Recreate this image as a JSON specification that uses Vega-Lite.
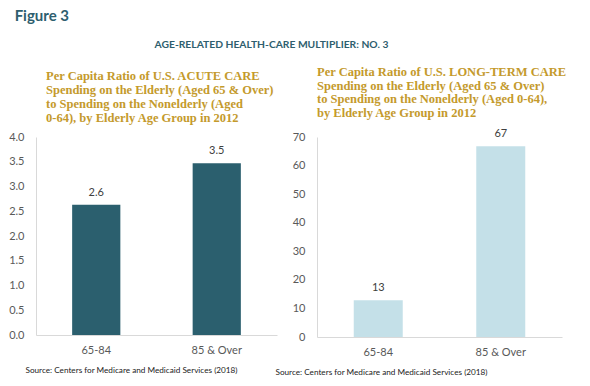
{
  "$schema": "https://vega.github.io/schema/vega-lite/v6.json",
  "background": "white",
  "padding": {"left": 8, "top": 8, "right": 5, "bottom": 5},
  "datasets": {
    "acute": [
      {"group": "65-84", "ratio": 2.63},
      {"group": "85 & Over", "ratio": 3.47}
    ],
    "ltc": [
      {"group": "65-84", "ratio": 12.9},
      {"group": "85 & Over", "ratio": 66.8}
    ]
  },
  "title": {
    "text": "Figure 3",
    "anchor": "start",
    "frame": "bounds",
    "dx": 6,
    "font": "Lato",
    "fontSize": 15,
    "fontWeight": "bold",
    "color": "#2E5E6E",
    "offset": 16
  },
  "config": {
    "view": {"stroke": null},
    "axis": {
      "domainColor": "#D9D9D9",
      "ticks": false,
      "grid": false,
      "labelColor": "#595959",
      "labelFont": "Lato",
      "labelFontSize": 11
    },
    "title": {
      "font": "Liberation Serif",
      "fontSize": 12.5,
      "fontWeight": "bold",
      "color": "#C49A2C",
      "anchor": "start",
      "frame": "group",
      "lineHeight": 14
    }
  },
  "vconcat": [
    {
      "title": {
        "text": "AGE-RELATED HEALTH-CARE MULTIPLIER: NO. 3",
        "anchor": "middle",
        "frame": "bounds",
        "dx": -16,
        "font": "Lato",
        "fontSize": 10.3,
        "fontWeight": "bold",
        "color": "#2E5E6E",
        "offset": 16
      },
      "bounds": "flush",
      "spacing": 40,
      "hconcat": [
        {
          "width": 241,
          "height": 198,
          "data": {"name": "acute"},
          "title": {
            "text": [
              "Per Capita Ratio of  U.S. ACUTE CARE",
              "Spending on the Elderly (Aged 65 & Over)",
              "to Spending on the Nonelderly (Aged",
              "0-64), by Elderly Age Group  in 2012"
            ],
            "dx": 10,
            "offset": 7
          },
          "encoding": {
            "x": {
              "field": "group",
              "type": "nominal",
              "sort": null,
              "scale": {"paddingInner": 0.6, "paddingOuter": 0.3},
              "axis": {
                "labelAngle": 0,
                "labelPadding": 9,
                "title": "Source: Centers for Medicare and Medicaid Services (2018)",
                "titleFont": "Lato",
                "titleFontSize": 8.2,
                "titleFontWeight": "normal",
                "titleColor": "#222222",
                "titleAlign": "left",
                "titleAnchor": "start",
                "titleX": -11,
                "titleY": 31
              }
            },
            "y": {
              "field": "ratio",
              "type": "quantitative",
              "scale": {"domain": [0, 4]},
              "axis": {
                "values": [0, 0.5, 1, 1.5, 2, 2.5, 3, 3.5, 4],
                "format": ".1f",
                "title": null,
                "labelPadding": 12
              }
            }
          },
          "layer": [
            {"mark": {"type": "bar", "color": "#2B5F6E"}},
            {
              "mark": {"type": "text", "dy": -12, "font": "Lato", "fontSize": 11, "color": "#404040"},
              "encoding": {"text": {"field": "ratio", "type": "quantitative", "format": ".1f"}}
            }
          ]
        },
        {
          "width": 245,
          "height": 200,
          "data": {"name": "ltc"},
          "title": {
            "text": [
              "Per Capita Ratio of U.S. LONG-TERM CARE",
              "Spending on the Elderly (Aged 65 & Over)",
              "to Spending on the Nonelderly (Aged 0-64),",
              "by Elderly Age Group in 2012"
            ],
            "dx": 0,
            "offset": 9,
            "lineHeight": 13.5
          },
          "encoding": {
            "x": {
              "field": "group",
              "type": "nominal",
              "sort": null,
              "scale": {"paddingInner": 0.6, "paddingOuter": 0.3},
              "axis": {
                "labelAngle": 0,
                "labelPadding": 9,
                "title": "Source: Centers for Medicare and Medicaid Services (2018)",
                "titleFont": "Lato",
                "titleFontSize": 8.2,
                "titleFontWeight": "normal",
                "titleColor": "#222222",
                "titleAlign": "left",
                "titleAnchor": "start",
                "titleX": -42,
                "titleY": 31
              }
            },
            "y": {
              "field": "ratio",
              "type": "quantitative",
              "scale": {"domain": [0, 70]},
              "axis": {
                "values": [0, 10, 20, 30, 40, 50, 60, 70],
                "title": null,
                "labelPadding": 12
              }
            }
          },
          "layer": [
            {"mark": {"type": "bar", "color": "#C4E0E8"}},
            {
              "mark": {"type": "text", "dy": -12, "font": "Lato", "fontSize": 11, "color": "#404040"},
              "encoding": {"text": {"field": "ratio", "type": "quantitative", "format": ".0f"}}
            }
          ]
        }
      ]
    }
  ]
}
